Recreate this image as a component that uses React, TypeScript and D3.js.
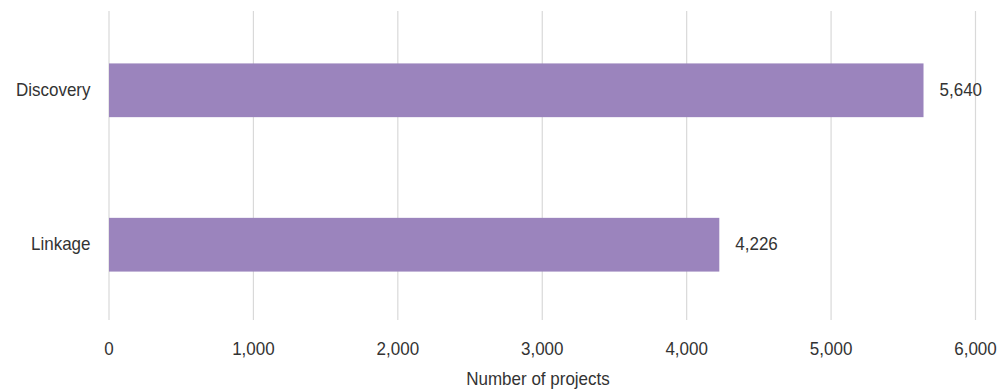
import React from "react";
import * as d3 from "d3";

const categories = ["Discovery", "Linkage"];
const values = [5640, 4226];
const xTicks = [0, 1000, 2000, 3000, 4000, 5000, 6000];
const axisTitle = "Number of projects";

const W = 1008;
const H = 392;
const FONT = "'Liberation Sans', Arial, sans-serif";
const fmt = d3.format(",");

export default function App() {
  const x = d3.scaleLinear().domain([0, 6000]).range([109, 975.5]);
  const y = d3
    .scaleBand<string>()
    .domain(categories)
    .range([14, 321])
    .paddingInner(0.652)
    .paddingOuter(0.32);
  const gridTop = 11;
  const gridBottom = 320;
  const sy = 1.1;
  const fs = 17;
  const textColor = "#333333";

  const T = (props: {
    x: number;
    y: number;
    anchor: string;
    children: React.ReactNode;
  }) => (
    <text
      transform={`translate(${props.x},${props.y}) scale(1,${sy})`}
      textAnchor={props.anchor as any}
      fontFamily={FONT}
      fontSize={fs}
      fill={textColor}
    >
      {props.children}
    </text>
  );

  return (
    <svg
      width={W}
      height={H}
      style={{ position: "absolute", left: 0, top: 0, background: "#fff" }}
    >
      <rect x={0} y={0} width={W} height={H} fill="#fff" />
      {xTicks.map((t) => (
        <line
          key={"g" + t}
          x1={x(t)}
          x2={x(t)}
          y1={gridTop}
          y2={gridBottom}
          stroke="#d9d9d9"
          strokeWidth={1.2}
        />
      ))}
      {categories.map((c, i) => (
        <g key={c}>
          <rect
            x={x(0)}
            y={y(c)!}
            width={x(values[i]) - x(0)}
            height={y.bandwidth()}
            fill="#9b84bd"
          />
          <T x={90.5} y={y(c)! + y.bandwidth() / 2 + 5.5} anchor="end">
            {c}
          </T>
          <T x={x(values[i]) + 16} y={y(c)! + y.bandwidth() / 2 + 5.5} anchor="start">
            {fmt(values[i])}
          </T>
        </g>
      ))}
      {xTicks.map((t) => (
        <T key={"t" + t} x={x(t)} y={355} anchor="middle">
          {fmt(t)}
        </T>
      ))}
      <T x={538} y={385} anchor="middle">
        {axisTitle}
      </T>
    </svg>
  );
}
